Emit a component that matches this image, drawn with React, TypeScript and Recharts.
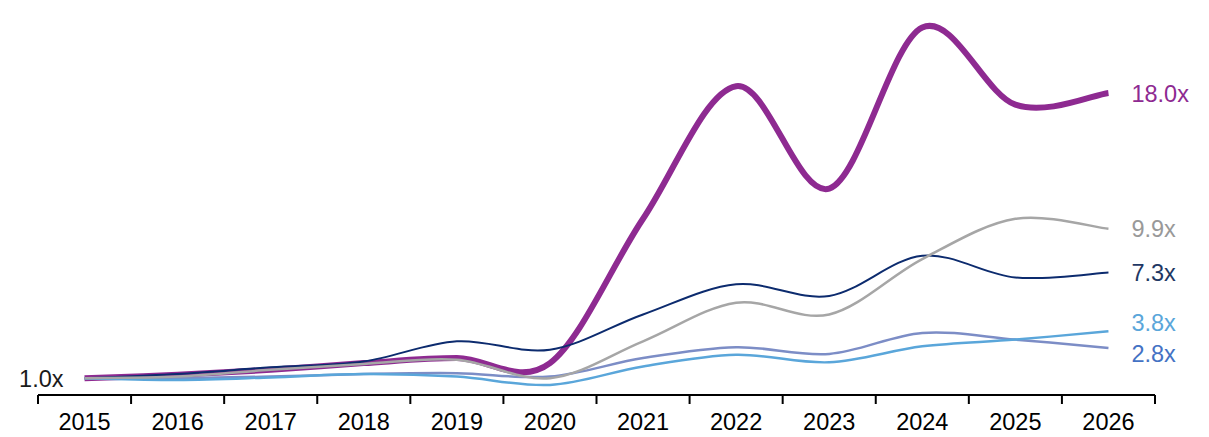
import React from "react";
import { LineChart, Line, XAxis, YAxis } from "recharts";

// year categories
const YEARS = ["2015", "2016", "2017", "2018", "2019", "2020", "2021", "2022", "2023", "2024", "2025", "2026"];

// multiple of 2015 value, per series
const PURPLE = [1.0, 1.2, 1.5, 1.9, 2.2, 1.9, 10.5, 18.4, 12.3, 21.9, 17.3, 18.0];
const NAVY = [1.0, 1.25, 1.65, 2.0, 3.2, 2.7, 4.8, 6.6, 5.9, 8.3, 7.0, 7.3];
const GRAY = [1.0, 1.1, 1.5, 1.85, 2.1, 1.0, 3.2, 5.5, 4.8, 8.1, 10.5, 9.9];
const SLATE = [1.0, 1.0, 1.1, 1.25, 1.3, 1.1, 2.2, 2.85, 2.45, 3.7, 3.3, 2.8];
const LIGHT_BLUE = [1.0, 0.9, 1.05, 1.25, 1.1, 0.6, 1.7, 2.4, 1.95, 2.9, 3.3, 3.8];

const START_LABEL = "1.0x";
const END_LABELS = { purple: "18.0x", navy: "7.3x", gray: "9.9x", slate: "2.8x", lightBlue: "3.8x" };

const FONT = "'Liberation Sans', Arial, sans-serif";
const FONT_SIZE = 23.5;

const CHART_W = 1209;
const CHART_H = 437;
const MARGIN = { top: 9, right: 54, left: 38, bottom: 0 };

const chartData = YEARS.map((year, i) => ({
  idx: i,
  year,
  purple: PURPLE[i],
  navy: NAVY[i],
  gray: GRAY[i],
  slate: SLATE[i],
  lightBlue: LIGHT_BLUE[i],
}));

const LAST = YEARS.length - 1;
const boundaryTicks = YEARS.map((_, i) => i - 0.5).concat([LAST + 0.5]);
const HALF_BAND = (CHART_W - MARGIN.left - MARGIN.right) / YEARS.length / 2;

// Excel-style smoothed line (Catmull-Rom through every point)
const smoothCurve = (context: any) => {
  let pts: number[][] = [];
  return {
    areaStart() {},
    areaEnd() {},
    lineStart() {
      pts = [];
    },
    point(x: number, y: number) {
      pts.push([+x, +y]);
    },
    lineEnd() {
      if (!pts.length) return;
      context.moveTo(pts[0][0], pts[0][1]);
      for (let i = 0; i < pts.length - 1; i++) {
        const p0 = pts[i - 1] || pts[i];
        const p1 = pts[i];
        const p2 = pts[i + 1];
        const p3 = pts[i + 2] || p2;
        context.bezierCurveTo(
          p1[0] + (p2[0] - p0[0]) / 6,
          p1[1] + (p2[1] - p0[1]) / 6,
          p2[0] - (p3[0] - p1[0]) / 6,
          p2[1] - (p3[1] - p1[1]) / 6,
          p2[0],
          p2[1]
        );
      }
    },
  };
};

// 연도 라벨은 눈금 사이 가운데에
const YearTick = (props: any) => {
  const { x, y, payload } = props;
  const i = payload.value + 0.5;
  if (i > LAST) return null;
  return (
    <text x={x + HALF_BAND} y={y} dy="0.71em" textAnchor="middle" fill="#000" fontSize={FONT_SIZE} fontFamily={FONT}>
      {YEARS[i]}
    </text>
  );
};

// 마지막 점 옆에 라벨 표시
const endLabel = (text: string, color: string, shift = 0, withStart = false) => (props: any) => {
  const { x, y, index } = props;
  if (index === LAST) {
    return (
      <text x={x + 23} y={y + shift} dy={8.5} fill={color} fontSize={FONT_SIZE} fontFamily={FONT} textAnchor="start">
        {text}
      </text>
    );
  }
  if (withStart && index === 0) {
    return (
      <text x={x - 21} y={y} dy={8.5} fill="#1a1a1a" fontSize={FONT_SIZE} fontFamily={FONT} textAnchor="end">
        {START_LABEL}
      </text>
    );
  }
  return null;
};

export default function App() {
  return (
    <div style={{ position: "absolute", left: 0, top: 0, width: CHART_W, height: CHART_H, background: "#fff" }}>
      <LineChart width={CHART_W} height={CHART_H} data={chartData} margin={MARGIN}>
        <XAxis
          dataKey="idx"
          type="number"
          domain={[-0.5, LAST + 0.5]}
          ticks={boundaryTicks}
          tick={<YearTick />}
          axisLine={{ stroke: "#000", strokeWidth: 2 }}
          tickLine={{ stroke: "#000", strokeWidth: 2 }}
          tickSize={9}
          tickMargin={9}
          height={42}
          interval={0}
        />
        <YAxis hide domain={[0, 23]} />
        <Line type={smoothCurve as any} dataKey="purple" stroke="#8E2A91" strokeWidth={6} dot={false} isAnimationActive={false} label={endLabel(END_LABELS.purple, "#8E2A91", 1, true)} />
        <Line type={smoothCurve as any} dataKey="navy" stroke="#0C2B6E" strokeWidth={2} dot={false} isAnimationActive={false} label={endLabel(END_LABELS.navy, "#1F3864")} />
        <Line type={smoothCurve as any} dataKey="slate" stroke="#7C8DC6" strokeWidth={2.5} dot={false} isAnimationActive={false} label={endLabel(END_LABELS.slate, "#4472C4", 5)} />
        <Line type={smoothCurve as any} dataKey="lightBlue" stroke="#5AA6DA" strokeWidth={2.5} dot={false} isAnimationActive={false} label={endLabel(END_LABELS.lightBlue, "#5AA6DA", -9)} />
        <Line type={smoothCurve as any} dataKey="gray" stroke="#A6A6A6" strokeWidth={2.5} dot={false} isAnimationActive={false} label={endLabel(END_LABELS.gray, "#999999")} />
      </LineChart>
    </div>
  );
}
